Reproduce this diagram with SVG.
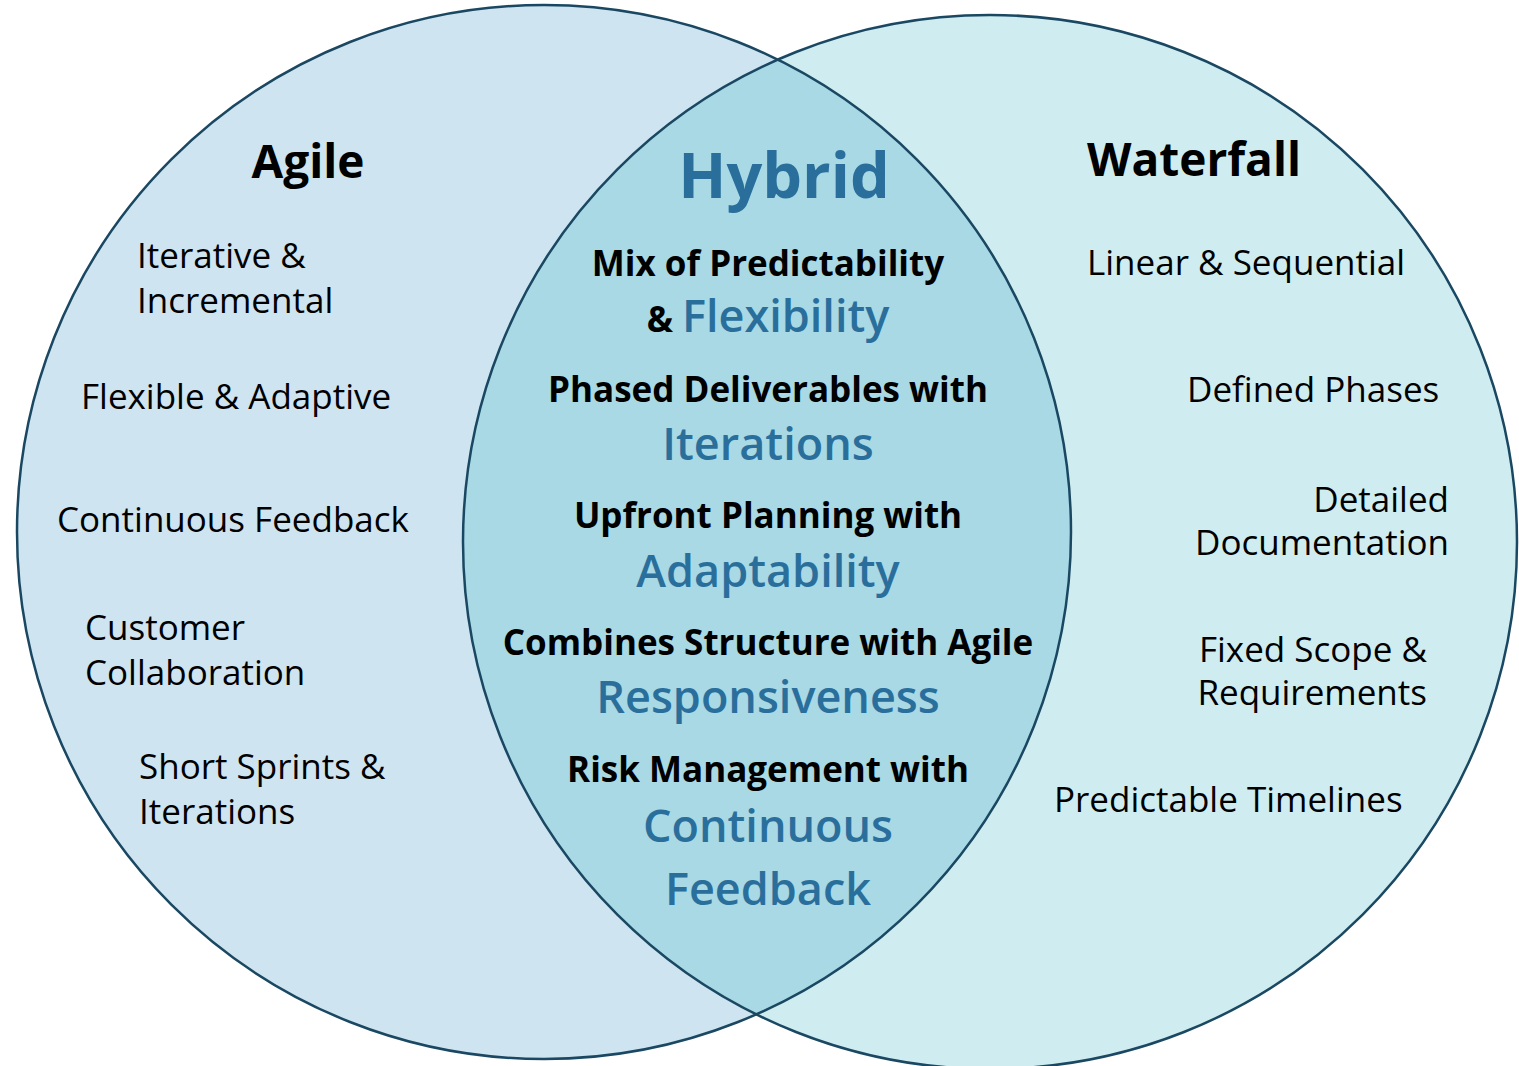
<svg xmlns="http://www.w3.org/2000/svg" width="1519" height="1066" viewBox="0 0 1519 1066">
<style>
.t{font-family:"Open Sans","Noto Sans","DejaVu Sans",sans-serif;fill:#000}
.r{font-size:35px;font-weight:400}
.h{font-size:46px;font-weight:700}
.b{font-size:35px;font-weight:700}
.bl{font-size:45px;font-weight:600;fill:#2a6f9c}
.m{text-anchor:middle}
.e{text-anchor:end}
.ring{fill:none;stroke:#1a4862;stroke-width:2.5}
</style>
<defs>
<clipPath id="clipR"><circle cx="990" cy="542" r="527"/></clipPath>
</defs>
<rect width="1519" height="1066" fill="#ffffff"/>
<g id="agile">
<circle cx="544" cy="532" r="527" fill="#cfe4f1"/>
</g>
<g id="waterfall">
<circle cx="990" cy="542" r="527" fill="#cfedf1"/>
</g>
<g id="hybrid">
<circle cx="544" cy="532" r="527" fill="#a8d9e5" clip-path="url(#clipR)"/>
</g>
<g id="outlines">
<circle class="ring" cx="544" cy="532" r="527"/>
<circle class="ring" cx="990" cy="542" r="527"/>
</g>
<g id="agile-text">
<text class="t h m" x="308" y="178">Agile</text>
<text class="t r" x="137" y="268">Iterative &amp;</text>
<text class="t r" x="137" y="313">Incremental</text>
<text class="t r" x="81" y="409">Flexible &amp; Adaptive</text>
<text class="t r" x="57" y="532">Continuous Feedback</text>
<text class="t r" x="85" y="640">Customer</text>
<text class="t r" x="85" y="685">Collaboration</text>
<text class="t r" x="139" y="779">Short Sprints &amp;</text>
<text class="t r" x="139" y="824">Iterations</text>
</g>
<g id="waterfall-text">
<text class="t h m" x="1194" y="176">Waterfall</text>
<text class="t r" x="1087" y="275">Linear &amp; Sequential</text>
<text class="t r" x="1187" y="402">Defined Phases</text>
<text class="t r e" x="1449" y="512">Detailed</text>
<text class="t r e" x="1449" y="555">Documentation</text>
<text class="t r e" x="1427" y="662">Fixed Scope &amp;</text>
<text class="t r e" x="1427" y="705">Requirements</text>
<text class="t r" x="1054" y="812">Predictable Timelines</text>
</g>
<g id="hybrid-text">
<text class="t m" x="784" y="198" style="font-size:63px;font-weight:700;fill:#2a6f9c">Hybrid</text>
<text class="t b m" x="768" y="276">Mix of Predictability</text>
<text class="t b m" x="768" y="332">&amp; <tspan class="bl">Flexibility</tspan></text>
<text class="t b m" x="768" y="402">Phased Deliverables with</text>
<text class="t bl m" x="768" y="460">Iterations</text>
<text class="t b m" x="768" y="528">Upfront Planning with</text>
<text class="t bl m" x="768" y="587">Adaptability</text>
<text class="t b m" x="768" y="655">Combines Structure with Agile</text>
<text class="t bl m" x="768" y="713">Responsiveness</text>
<text class="t b m" x="768" y="782">Risk Management with</text>
<text class="t bl m" x="768" y="842">Continuous</text>
<text class="t bl m" x="768" y="905">Feedback</text>
</g>
</svg>
